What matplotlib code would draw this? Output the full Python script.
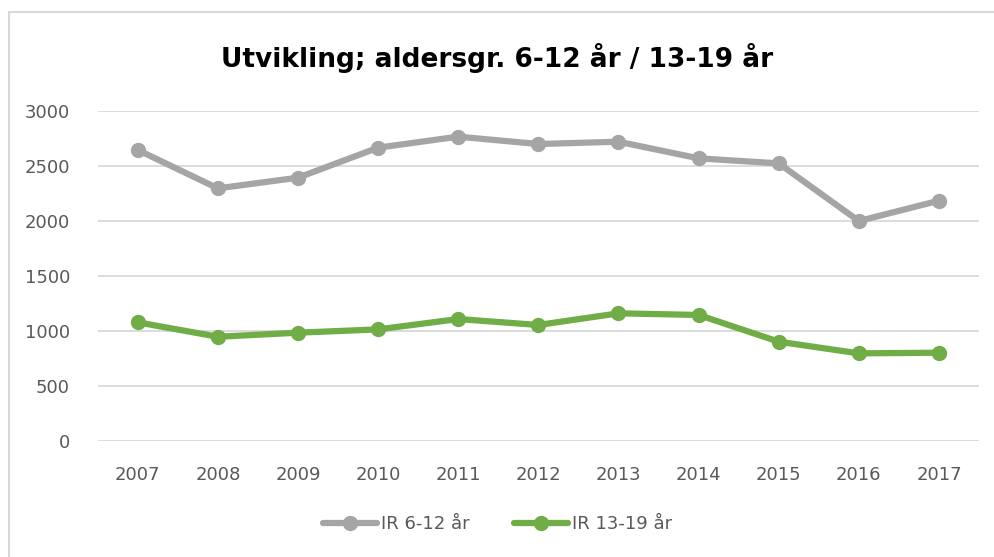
import numpy as np
import matplotlib
matplotlib.use("Agg")
import matplotlib.pyplot as plt
from matplotlib.patches import Rectangle

years = ["2007", "2008", "2009", "2010", "2011", "2012", "2013", "2014", "2015", "2016", "2017"]
ir_6_12 = [2643, 2294, 2391, 2664, 2764, 2697, 2718, 2567, 2521, 1997, 2182]
ir_13_19 = [1076, 945, 982, 1012, 1106, 1052, 1158, 1143, 900, 794, 800]

C_GREY = "#A5A5A5"; C_GREEN = "#70AD47"; C_GRID = "#D9D9D9"; C_TXT = "#595959"

plt.rcParams.update({"font.family": ["DejaVu Sans"]})

fig = plt.figure(figsize=(9.95, 5.57), dpi=100)
# chart frame
fig.patches.append(Rectangle((9 / 995, -0.05), 1.1, 1 - 12 / 557 + 0.05, transform=fig.transFigure,
                             fill=False, edgecolor=C_GRID, lw=1.5))

ax = fig.add_axes([97.7 / 995, 1 - 440.7 / 557, (979 - 97.7) / 995, (440.7 - 110.7) / 557])
x = np.arange(len(years))
ax.plot(x, ir_6_12, "-o", color=C_GREY, lw=4.5, ms=10, label="IR 6-12 år", solid_capstyle="round")
ax.plot(x, ir_13_19, "-o", color=C_GREEN, lw=4.5, ms=10, label="IR 13-19 år", solid_capstyle="round")

ax.set_xlim(-0.5, len(years) - 0.5)
ax.set_ylim(0, 3000)
ax.set_yticks(range(0, 3001, 500))
ax.set_xticks(x); ax.set_xticklabels(years)
ax.grid(axis="y", color=C_GRID, lw=1.3)
ax.set_axisbelow(True)
for s in ax.spines.values():
    s.set_visible(False)
ax.tick_params(length=0, labelsize=13, colors=C_TXT)
ax.tick_params(axis="x", pad=18)
ax.tick_params(axis="y", pad=20)

fig.text(0.5, 1 - 58 / 557, "Utvikling; aldersgr. 6-12 år / 13-19 år", ha="center", va="center",
         fontsize=19, fontweight="bold", color="black")

fig.legend(loc="center", bbox_to_anchor=(0.5, 1 - 524 / 557), ncol=2, frameon=False,
           fontsize=13, labelcolor=C_TXT, handlelength=3, columnspacing=2.5, handletextpad=0.2)

fig.savefig("out.png", dpi=100)
